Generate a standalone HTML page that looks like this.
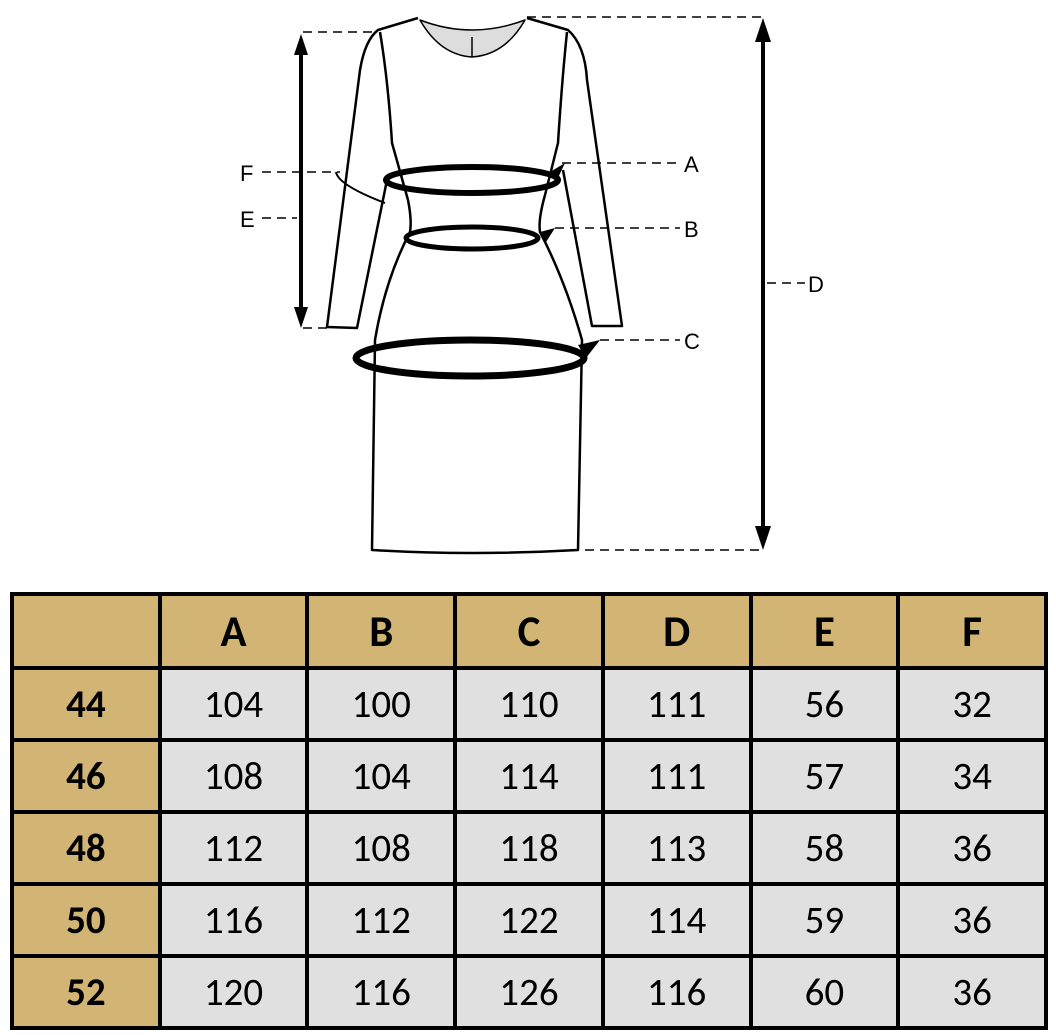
<!DOCTYPE html>
<html><head><style>
body{margin:0;background:#fff;width:1056px;height:1035px;overflow:hidden;font-family:"Liberation Sans",sans-serif;position:relative}
svg{position:absolute;left:0;top:0}
table{position:absolute;left:10px;top:592px;border-collapse:collapse;table-layout:fixed;width:1038px;font-family:Calibri,"Carlito","Liberation Sans",sans-serif}
td{border:4px solid #000;text-align:center;font-size:39px;background:#e0e0e0;padding:0}
tr{height:72px}
tr:first-child{height:74px}
tr:first-child td{font-size:43px}
tr:first-child td,td:first-child{background:#d2b574;font-weight:bold}
</style></head><body>
<svg width="1056" height="590" viewBox="0 0 1056 590">
<g fill="none" stroke="#000" stroke-width="2.5" stroke-linejoin="round">
<path d="M420,20 Q440,55 472,57 Q505,55 525,20 Q472,40 420,20Z" fill="#ddd" stroke-width="1.5"/>
<line x1="472" y1="37" x2="472" y2="57" stroke-width="1.5"/>
<path d="M418,18 L378,30 Q365,40 360,70 L327,327 L357,328 L388,175"/>
<path d="M527,18 L568,30 Q585,45 587,80 L622,326 L592,326 L563,170"/>
<path d="M380,32 Q388,80 392,143 L408,200 Q412,220 410,232 Q385,280 375,340 L372,550 Q470,556 578,550 L582,340 Q565,280 540,232 Q538,220 545,195 L558,143 Q562,80 567,32"/>
</g>
<g fill="none" stroke="#000" stroke-width="6">
<ellipse cx="472" cy="180" rx="86" ry="13"/>
<ellipse cx="472" cy="238" rx="66" ry="11" stroke-width="5"/>
<ellipse cx="470" cy="358" rx="114" ry="18" stroke-width="7"/>
<path d="M336,172 Q338,185 385,203" stroke-width="2"/>
</g>
<g fill="#000">
<path d="M565,163 L550,172 L556,182Z"/>
<path d="M555,228 L540,232 L546,242Z"/>
<path d="M600,340 L578,345 L586,358Z"/>
</g>
<g stroke="#000" stroke-width="1.5" stroke-dasharray="9,6" fill="none">
<line x1="303" y1="32" x2="375" y2="32"/>
<line x1="303" y1="328" x2="327" y2="328"/>
<line x1="527" y1="17" x2="763" y2="17"/>
<line x1="570" y1="550" x2="763" y2="550"/>
<line x1="262" y1="172" x2="340" y2="172"/>
<line x1="262" y1="218" x2="297" y2="218"/>
<line x1="562" y1="163" x2="680" y2="163"/>
<line x1="555" y1="228" x2="680" y2="228"/>
<line x1="600" y1="340" x2="680" y2="340"/>
<line x1="767" y1="283" x2="805" y2="283"/>
</g>
<g stroke="#000" stroke-width="4"><line x1="301" y1="45" x2="301" y2="318"/><line x1="763" y1="30" x2="763" y2="538"/></g>
<g fill="#000">
<path d="M301,34 L294,55 L308,55Z"/><path d="M301,328 L294,307 L308,307Z"/>
<path d="M763,18 L755,42 L771,42Z"/><path d="M763,550 L755,526 L771,526Z"/>
</g>
<g font-size="22" fill="#000" font-family="Liberation Sans,sans-serif">
<text x="240" y="181">F</text><text x="240" y="227">E</text>
<text x="684" y="172">A</text><text x="684" y="237">B</text><text x="684" y="349">C</text><text x="808" y="292">D</text>
</g>
</svg>
<table>
<tr><td></td><td>A</td><td>B</td><td>C</td><td>D</td><td>E</td><td>F</td></tr>
<tr><td>44</td><td>104</td><td>100</td><td>110</td><td>111</td><td>56</td><td>32</td></tr>
<tr><td>46</td><td>108</td><td>104</td><td>114</td><td>111</td><td>57</td><td>34</td></tr>
<tr><td>48</td><td>112</td><td>108</td><td>118</td><td>113</td><td>58</td><td>36</td></tr>
<tr><td>50</td><td>116</td><td>112</td><td>122</td><td>114</td><td>59</td><td>36</td></tr>
<tr><td>52</td><td>120</td><td>116</td><td>126</td><td>116</td><td>60</td><td>36</td></tr>
</table>
</body></html>
